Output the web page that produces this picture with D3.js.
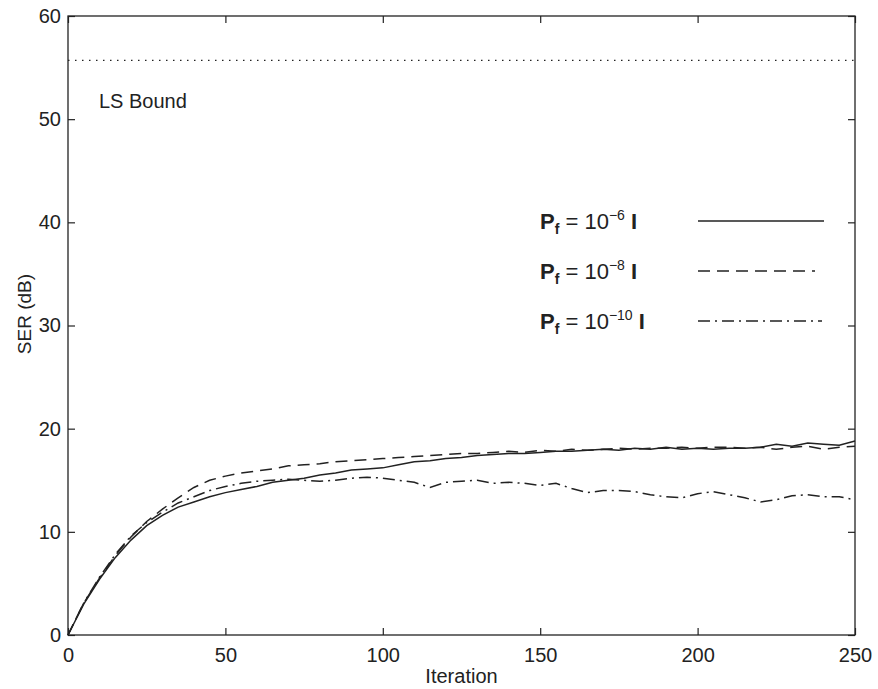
<!DOCTYPE html>
<html><head><meta charset="utf-8">
<script src="https://cdn.jsdelivr.net/npm/d3@7"></script>
<style>body{margin:0;background:#fff;} text{font-family:"Liberation Sans",Arial,sans-serif;fill:#222;}</style>
</head><body>
<svg id="c" width="878" height="689"></svg>
<script>
const iterations = d3.range(0, 251, 5);
const serP6 = [0,3.0,5.4,7.5,9.2,10.6,11.6,12.4,12.9,13.4,13.8,14.1,14.4,14.8,15.0,15.2,15.5,15.7,16.0,16.1,16.2,16.5,16.8,16.9,17.1,17.2,17.4,17.5,17.6,17.6,17.7,17.8,17.8,17.9,18.0,17.9,18.1,18.0,18.2,18.0,18.1,18.0,18.1,18.1,18.2,18.5,18.3,18.6,18.5,18.4,18.8];
const serP8 = [0,3.1,5.5,7.7,9.5,11.0,12.2,13.3,14.3,15.0,15.4,15.7,15.9,16.1,16.4,16.5,16.6,16.8,16.9,17.0,17.1,17.2,17.3,17.4,17.5,17.6,17.6,17.7,17.8,17.7,17.9,17.8,18.0,17.9,18.0,18.1,18.0,18.1,18.1,18.2,18.1,18.2,18.2,18.1,18.2,18.0,18.2,18.3,18.0,18.2,18.3];
const serP10 = [0,3.1,5.6,7.8,9.6,10.9,11.9,12.8,13.4,14.0,14.4,14.7,14.9,15.0,15.1,15.0,14.9,15.0,15.2,15.3,15.2,15.0,14.8,14.3,14.8,14.9,15.0,14.7,14.8,14.7,14.5,14.7,14.2,13.8,14.0,14.0,13.9,13.6,13.4,13.3,13.7,13.9,13.6,13.3,12.9,13.1,13.5,13.6,13.4,13.4,13.1];
const lsBound = 55.7;
const xTicks = [0,50,100,150,200,250];
const yTicks = [0,10,20,30,40,50,60];
const legendExp = ["\u22126","\u22128","\u221210"];

const svg = d3.select("#c");
const L=68,R=855,T=16,B=635;
const x = d3.scaleLinear().domain([0,250]).range([L,R]);
const y = d3.scaleLinear().domain([0,60]).range([B,T]);
const ink="#222";

const g = svg.append("g");
g.append("rect").attr("x",L).attr("y",T).attr("width",R-L).attr("height",B-T)
 .attr("fill","none").attr("stroke",ink).attr("stroke-width",1.3);

function inward(axisGen, tr){
  const a = g.append("g").attr("transform",tr).call(axisGen);
  a.select(".domain").remove();
  a.selectAll("line").attr("stroke",ink).attr("stroke-width",1.2);
  return a;
}
const fs=20;
const xa = inward(d3.axisBottom(x).tickValues(xTicks).tickSize(-7).tickPadding(13).tickFormat(d3.format("d")),`translate(0,${B})`);
xa.selectAll("text").attr("font-size",fs).attr("fill",ink).attr("dy","0.71em");
inward(d3.axisTop(x).tickValues(xTicks).tickSize(-7).tickFormat(""),`translate(0,${T})`);
const ya = inward(d3.axisLeft(y).tickValues(yTicks).tickSize(-7).tickPadding(7).tickFormat(d3.format("d")),`translate(${L},0)`);
ya.selectAll("text").attr("font-size",fs).attr("fill",ink);
inward(d3.axisRight(y).tickValues(yTicks).tickSize(-7).tickFormat(""),`translate(${R},0)`);
g.selectAll(".tick text").style("font-family","'Liberation Sans',Arial,sans-serif");

svg.append("text").attr("x",(L+R)/2).attr("y",683).attr("text-anchor","middle").attr("font-size",20).text("Iteration");
svg.append("text").attr("transform","translate(31,314) rotate(-90)").attr("text-anchor","middle").attr("font-size",19).text("SER (dB)");

g.append("line").attr("x1",x(0)).attr("x2",x(250)).attr("y1",y(lsBound)).attr("y2",y(lsBound))
 .attr("stroke",ink).attr("stroke-width",1.4).attr("stroke-dasharray","1.5,5.5");
svg.append("text").attr("x",99).attr("y",108).attr("font-size",20).text("LS Bound");

const series = [
 {v:serP6, dash:null},
 {v:serP8, dash:"12,7"},
 {v:serP10, dash:"12,5,2,5"}
];
const line = d3.line().x((d,i)=>x(iterations[i])).y(d=>y(d)).curve(d3.curveLinear);
series.forEach(s=>{
  g.append("path").datum(s.v).attr("d",line).attr("fill","none").attr("stroke",ink)
   .attr("stroke-width",1.5).attr("stroke-dasharray",s.dash);
});

const legY=[221,271,321], legEnd=[824,815,822];
series.forEach((s,i)=>{
  const t = svg.append("text").attr("x",540).attr("y",legY[i]+8).attr("font-size",22);
  t.append("tspan").attr("font-weight","bold").text("P");
  t.append("tspan").attr("font-size",14).attr("font-weight","bold").attr("dy",5).text("f");
  t.append("tspan").attr("dy",-5).text(" = 10");
  t.append("tspan").attr("font-size",14).attr("dy",-9).text(legendExp[i]);
  t.append("tspan").attr("dy",9).attr("font-weight","bold").text(" I");
  g.append("line").attr("x1",698).attr("x2",legEnd[i]).attr("y1",legY[i]).attr("y2",legY[i])
   .attr("stroke",ink).attr("stroke-width",1.5).attr("stroke-dasharray",s.dash);
});
</script>
</body></html>
